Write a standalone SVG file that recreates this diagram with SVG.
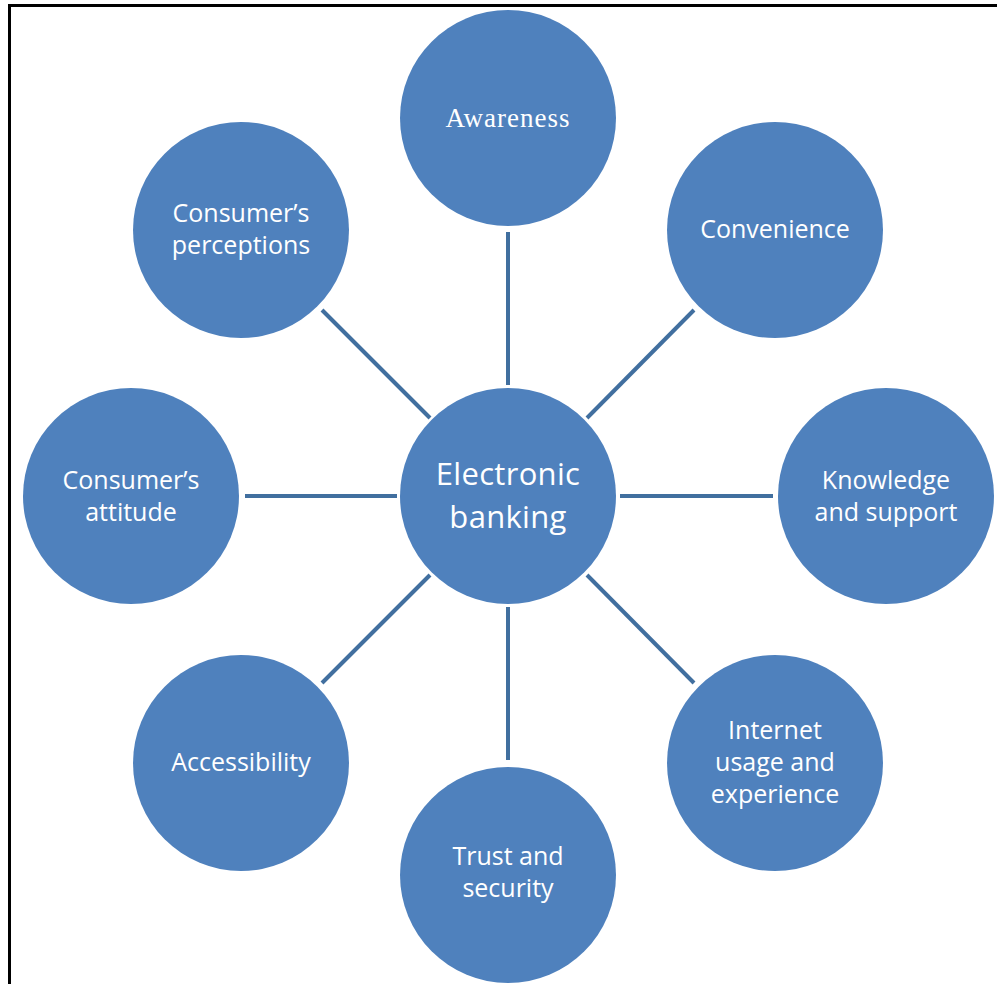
<svg xmlns="http://www.w3.org/2000/svg" width="997" height="984" viewBox="0 0 997 984">
  <style>
    .node { fill: #4F81BD; }
    .link { stroke: #416F9F; stroke-width: 4; fill: none; }
    .lbl { fill: #FFFFFF; font-family: "Open Sans", "Noto Sans", sans-serif; font-size: 25px; text-anchor: middle; }
    .serif { font-family: "Liberation Serif", "Times New Roman", serif; font-size: 27px; letter-spacing: 1px; }
    .big { font-size: 31px; letter-spacing: 0.3px; }
    .frame { stroke: #000000; stroke-width: 3; fill: none; }
  </style>
  <rect width="997" height="984" fill="#FFFFFF"/>
  <path class="frame" d="M9.5,984 V5.5 H997"/>

  <g id="connectors">
    <line class="link" x1="508" y1="232" x2="508" y2="385"/>
    <line class="link" x1="508" y1="607" x2="508" y2="760"/>
    <line class="link" x1="245" y1="496" x2="397" y2="496"/>
    <line class="link" x1="620" y1="496" x2="773" y2="496"/>
    <line class="link" x1="322" y1="310" x2="430" y2="418"/>
    <line class="link" x1="694" y1="310" x2="587" y2="418"/>
    <line class="link" x1="322" y1="683" x2="430" y2="575"/>
    <line class="link" x1="694" y1="683" x2="587" y2="575"/>
  </g>

  <g id="electronic-banking">
    <circle class="node" cx="508" cy="496" r="108"/>
    <text class="lbl big" x="508" y="485">Electronic</text>
    <text class="lbl big" x="508" y="528">banking</text>
  </g>
  <g id="awareness">
    <circle class="node" cx="508" cy="118" r="108"/>
    <text class="lbl serif" x="508" y="127">Awareness</text>
  </g>
  <g id="convenience">
    <circle class="node" cx="775" cy="230" r="108"/>
    <text class="lbl" x="775" y="238">Convenience</text>
  </g>
  <g id="knowledge-support">
    <circle class="node" cx="886" cy="496" r="108"/>
    <text class="lbl" x="886" y="489">Knowledge</text>
    <text class="lbl" x="886" y="521">and support</text>
  </g>
  <g id="internet-usage">
    <circle class="node" cx="775" cy="763" r="108"/>
    <text class="lbl" x="775" y="739">Internet</text>
    <text class="lbl" x="775" y="771">usage and</text>
    <text class="lbl" x="775" y="803">experience</text>
  </g>
  <g id="trust-security">
    <circle class="node" cx="508" cy="875" r="108"/>
    <text class="lbl" x="508" y="865">Trust and</text>
    <text class="lbl" x="508" y="897">security</text>
  </g>
  <g id="accessibility">
    <circle class="node" cx="241" cy="763" r="108"/>
    <text class="lbl" x="241" y="771">Accessibility</text>
  </g>
  <g id="consumer-attitude">
    <circle class="node" cx="131" cy="496" r="108"/>
    <text class="lbl" x="131" y="489">Consumer’s</text>
    <text class="lbl" x="131" y="521">attitude</text>
  </g>
  <g id="consumer-perceptions">
    <circle class="node" cx="241" cy="230" r="108"/>
    <text class="lbl" x="241" y="222">Consumer’s</text>
    <text class="lbl" x="241" y="254">perceptions</text>
  </g>
</svg>
